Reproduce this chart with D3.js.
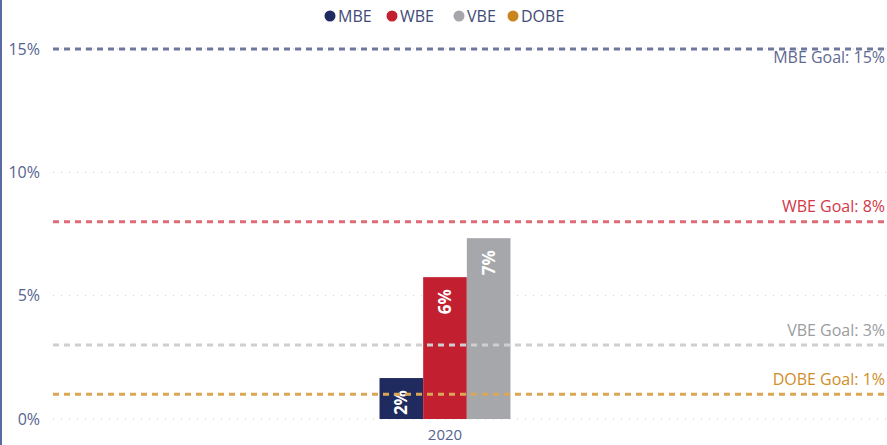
<!DOCTYPE html>
<html><head><meta charset="utf-8">
<script src="https://cdn.jsdelivr.net/npm/d3@7"></script>
<style>body{margin:0;background:#fff;} svg{display:block;font-family:"Segoe UI","Open Sans","Noto Sans",sans-serif;}</style>
</head><body>
<svg id="c" width="887" height="445"></svg>
<script>
const categories = ["2020"];
const seriesNames = ["MBE","WBE","VBE","DOBE"];
const seriesColors = ["#1f2b5e","#c21f30","#a6a7ab","#c9861e"];
const values2020 = [1.66, 5.75, 7.33];
const barLabels = ["2%","6%","7%"];
const goalNames = ["MBE Goal: 15%","WBE Goal: 8%","VBE Goal: 3%","DOBE Goal: 1%"];
const goalValues = [15, 8, 3, 1];
const goalLineColors = ["#6e789c","#e06b77","#cfcfd1","#dba655"];
const goalTextColors = ["#5f6a92","#d33848","#9a9ca0","#cf8d2a"];
const yTicks = [0, 5, 10, 15];

const svg = d3.select("#c");
const W = 887, H = 445;
const y = d3.scaleLinear().domain([0, 15]).range([419, 49]);
const x0 = d3.scaleBand().domain(categories).range([53, 837]).padding(0.7137);
const x1 = d3.scaleBand().domain(seriesNames.slice(0,3)).range([0, x0.bandwidth()]).padding(0);

// left border
svg.append("line").attr("x1",1).attr("x2",1).attr("y1",0).attr("y2",H).attr("stroke","#5a6aa3").attr("stroke-width",2);

// grid
svg.append("g").selectAll("line").data(yTicks).join("line")
  .attr("x1",53).attr("x2",W).attr("y1",d=>y(d)).attr("y2",d=>y(d))
  .attr("stroke","#c8c8c8").attr("stroke-width",1).attr("stroke-dasharray","1,7");

// y tick labels
svg.append("g").selectAll("text").data(yTicks).join("text")
  .attr("x",40).attr("y",d=>y(d)).attr("dy","0.35em").attr("text-anchor","end")
  .attr("fill","#56648f").attr("font-size",16).text(d=>d+"%");

// bars
const g = svg.append("g").attr("transform",`translate(${x0("2020")},0)`);
g.selectAll("rect").data(values2020).join("rect")
  .attr("x",(d,i)=>x1(seriesNames[i])).attr("width",x1.bandwidth())
  .attr("y",d=>y(d)).attr("height",d=>y(0)-y(d))
  .attr("fill",(d,i)=>seriesColors[i]);

// goal lines
svg.append("g").selectAll("line").data(goalValues).join("line")
  .attr("x1",53).attr("x2",W).attr("y1",d=>y(d)).attr("y2",d=>y(d))
  .attr("stroke",(d,i)=>goalLineColors[i]).attr("stroke-width",3).attr("stroke-dasharray","6,5");

// bar labels (rotated)
g.selectAll("text").data(values2020).join("text")
  .attr("transform",(d,i)=>`translate(${x1(seriesNames[i])+x1.bandwidth()/2},${y(d)+12}) rotate(-90)`)
  .attr("text-anchor","end").attr("dy","0.36em")
  .attr("fill","#fff").attr("font-weight","bold").attr("font-size",17)
  .text((d,i)=>barLabels[i]);

// goal labels
svg.append("g").selectAll("text").data(goalValues).join("text")
  .attr("x",885).attr("y",(d,i)=> i===0 ? y(d)+8 : y(d)-15)
  .attr("dy","0.35em").attr("text-anchor","end")
  .attr("fill",(d,i)=>goalTextColors[i]).attr("font-size",16)
  .text((d,i)=>goalNames[i]);

// x axis label
svg.append("text").attr("x",x0("2020")+x0.bandwidth()/2).attr("y",435).attr("dy","0.35em")
  .attr("text-anchor","middle").attr("fill","#56648f").attr("font-size",15).text("2020");

// legend
const legX = [330, 392, 459, 513];
const leg = svg.append("g").selectAll("g").data(seriesNames).join("g")
  .attr("transform",(d,i)=>`translate(${legX[i]},16)`);
leg.append("circle").attr("r",5.5).attr("fill",(d,i)=>seriesColors[i]);
leg.append("text").attr("x",8).attr("dy","0.35em").attr("fill","#3f4b78").attr("font-size",16).text(d=>d);
</script>
</body></html>
